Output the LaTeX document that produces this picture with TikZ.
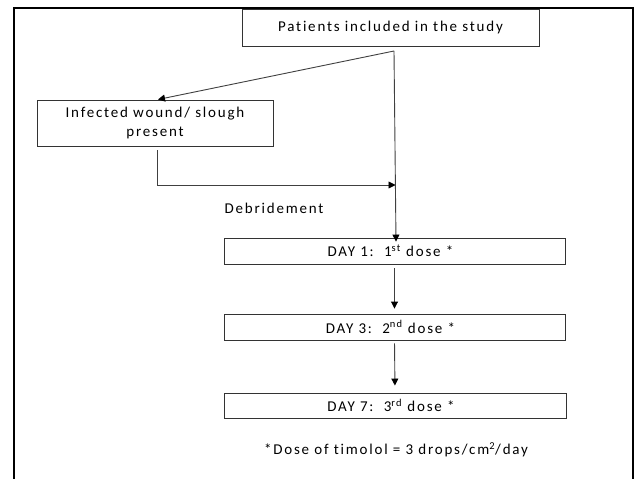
\documentclass[tikz,border=0pt]{standalone}
\usepackage{fontspec}
\setmainfont{Carlito}[LetterSpace=12,Ligatures=NoCommon]
\usetikzlibrary{arrows.meta}
\begin{document}
\begin{tikzpicture}[x=1pt,y=-1pt,
  box/.style={draw=black!80,line width=0.9pt,inner sep=0pt,align=center,font=\fontsize{15}{18.5}\selectfont},
  lbl/.style={inner sep=0pt,font=\fontsize{15}{18.5}\selectfont},
  conn/.style={draw=black!75,line width=0.9pt},
  arr/.style={conn,-{Triangle[length=7pt,width=7pt,fill=black,color=black]}}]
\useasboundingbox (0,0) rectangle (638,479);
\fill[white] (0,0) rectangle (638,479);
% frame
\draw[line width=2pt,black] (13.5,479) -- (13.5,7.5) -- (633,7.5) -- (633,479);
% nodes
\node[box,minimum width=297pt,minimum height=37pt] (top) at (390.5,27.5) {Patients included in the study};
\node[box,minimum width=236pt,minimum height=46pt] (inf) at (155,123) {Infected wound/ slough\\present};
\node[box,minimum width=341pt,minimum height=26pt] (d1) at (394.5,251) {DAY 1:\ \ 1\textsuperscript{st} dose *\hspace*{8pt}};
\node[box,minimum width=341pt,minimum height=26pt] (d3) at (394.5,327) {DAY 3:\ \ 2\textsuperscript{nd} dose *\hspace*{8pt}};
\node[box,minimum width=342pt,minimum height=25pt] (d7) at (395,405.5) {DAY 7:\ \ 3\textsuperscript{rd} dose *\hspace*{8pt}};
\node[lbl] (deb) at (274,208) {Debridement};
\node[lbl] (note) at (396,450) {*Dose of timolol = 3 drops/cm\textsuperscript{2}/day};
% connectors
\coordinate (split) at (394,51);
\coordinate (bend) at (157,185);
\coordinate (join) at (395.5,185);
\draw[arr] (split) -- (158,99.5) coordinate (inftop);
\draw[arr] (split) -- ([xshift=1.5pt,yshift=-4pt]d1.north);
\draw[conn] ([xshift=2pt,yshift=-4pt]inf.south) -- (bend);
\draw[arr] (bend) -- (join);
\draw[arr,shorten <=4pt,shorten >=5pt] (d1.south) -- (d3.north);
\draw[arr,shorten <=3pt,shorten >=7pt] (d3.south) -- (d7.north);
\end{tikzpicture}
\end{document}
